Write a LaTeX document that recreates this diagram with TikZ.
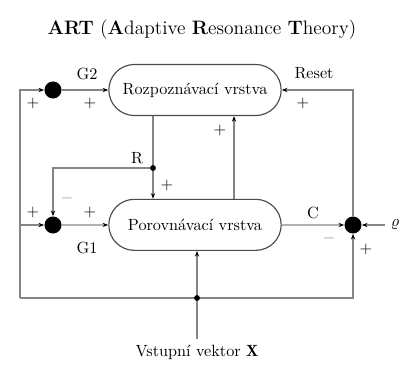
\documentclass[tikz,border=0pt]{standalone}
\usepackage{fontspec}
\usepackage{tikz}
\usetikzlibrary{positioning, arrows.meta, shapes.misc, backgrounds}
\definecolor{wire}{HTML}{858585}
\definecolor{outline}{HTML}{4A4A4A}
\tikzset{
  layerbox/.style={draw=outline, line width=0.7pt, rounded rectangle, minimum width=113pt, minimum height=31.5pt, align=center},
  summer/.style={circle, fill=black, inner sep=0pt, minimum size=10.5pt},
  junction/.style={circle, fill=black, inner sep=0pt, minimum size=3.6pt},
  arrow/.style={-{Stealth[length=3.5pt, width=2.6pt, black]}, line width=0.8pt, draw=wire},
  lbl/.style={inner sep=1pt},
  plus/.style={inner sep=1pt},
  minus/.style={inner sep=1pt, text=wire},
}
\begin{document}
\begin{tikzpicture}[x=0.617pt, y=-0.617pt]
  \useasboundingbox (0,0) rectangle (403,373);

  % Title
  \node[font=\large] (title) at (202,30)
    {\textbf{ART} (\textbf{A}daptive \textbf{R}esonance \textbf{T}heory)};

  % Layers
  \node[layerbox] (rozp) at (195,90) {Rozpoznávací vrstva};
  \node[layerbox, below=51pt of rozp] (porov) {Porovnávací vrstva};

  % Gain controls G1, G2 and reset unit
  \node[summer] (g2) at (53,90) {};
  \node[summer] (g1) at (53,225) {};
  \node[summer] (reset) at (353,225) {};

  % Branch points
  \node[junction] (rdot) at (153,168) {};
  \node[junction] (xdot) at (197,298) {};
  \coordinate (lcorner) at (20,298);
  \coordinate (up) at (234,0);

  % Inputs
  \node (input) at (197,352) {Vstupní vektor $\mathbf{X}$};
  \node (rho) at (395,225) {$\varrho$};

  % Edges (behind the dots)
  \begin{pgfonlayer}{background}
    \draw[arrow] (input) -- (porov.south -| input);
    \draw[arrow] (lcorner) -| (reset);
    \draw[arrow] (lcorner) |- (g2);
    \draw[arrow] (lcorner |- g1) -- (g1);
    \draw[arrow] (g2) -- (rozp);
    \draw[arrow] (g1) -- (porov);
    \draw[arrow] (reset) |- (rozp);
    \draw[arrow] (porov) -- (reset);
    \draw[arrow] (rho) -- (reset);
    \draw[arrow] (rozp.south -| rdot) -- (porov.north -| rdot);
    \draw[arrow] (rdot) -| (g1);
    \draw[arrow] (porov.north -| up) -- (rozp.south -| up);
  \end{pgfonlayer}

  % Labels
  \node[lbl] (g2lbl) at (87,74) {G2};
  \node[lbl] (g1lbl) at (87,248) {G1};
  \node[lbl] (resetlbl) at (314,73) {Reset};
  \node[lbl] (rlbl) at (137,158) {R};
  \node[lbl] (clbl) at (313,213) {C};

  % Signs
  \node[plus] (p1) at (33,103) {$+$};
  \node[plus] (p2) at (90,103) {$+$};
  \node[plus] (p3) at (303,103) {$+$};
  \node[plus] (p4) at (220,130) {$+$};
  \node[plus] (p5) at (167,185) {$+$};
  \node[plus] (p6) at (33,212) {$+$};
  \node[plus] (p7) at (90,212) {$+$};
  \node[plus] (p8) at (366,249) {$+$};
  \node[minus] (m1) at (67,198) {$-$};
  \node[minus] (m2) at (329,238) {$-$};
\end{tikzpicture}
\end{document}
